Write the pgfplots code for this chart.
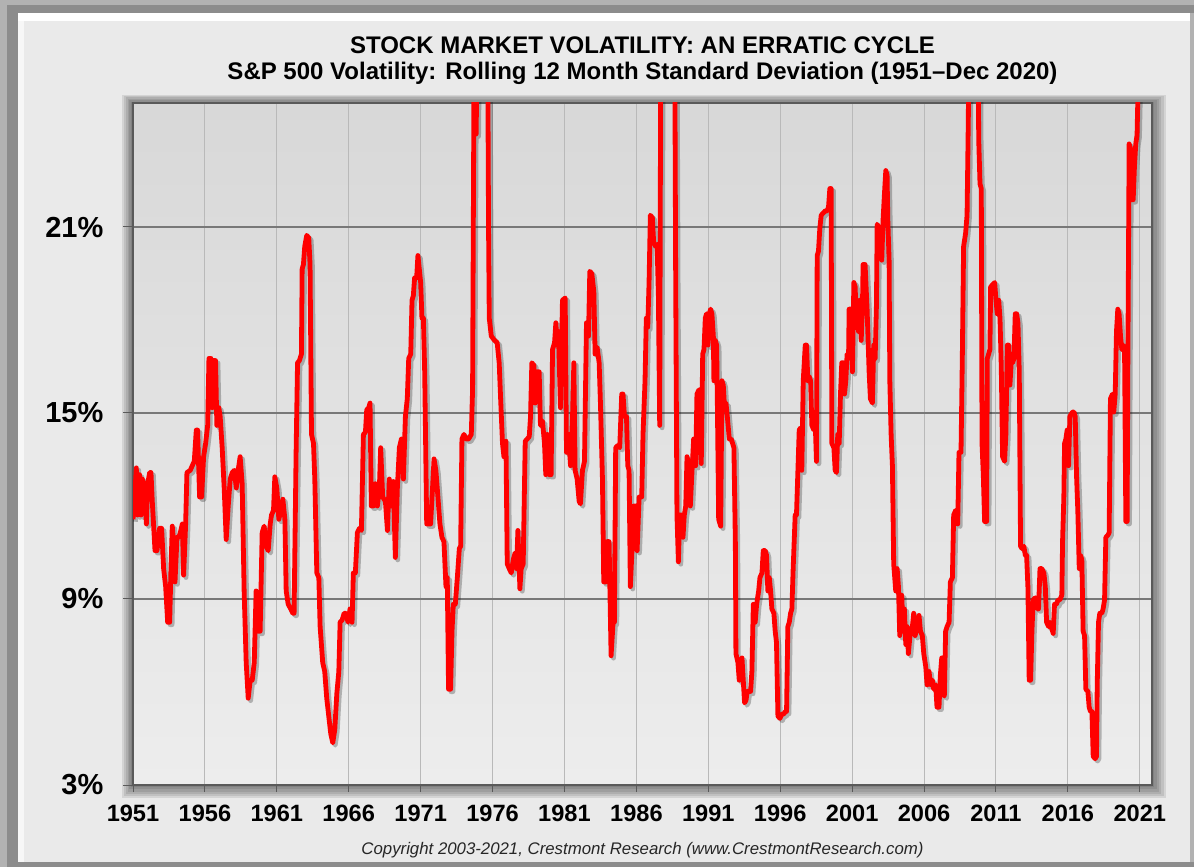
\documentclass[border=0pt]{standalone}
\usepackage{fontspec}
\setmainfont{Liberation Sans}
\usepackage{pgfplots}
\usepackage{pgfplotstable}
\pgfplotsset{compat=1.18}

\definecolor{outer}{RGB}{178,178,178}
\definecolor{panel}{RGB}{234,234,234}
\definecolor{plottop}{RGB}{216,216,216}
\definecolor{plotbot}{RGB}{237,237,237}
\definecolor{gridv}{RGB}{185,185,185}
\definecolor{gridh}{RGB}{120,120,120}
\definecolor{frame}{RGB}{90,90,90}
\definecolor{volred}{RGB}{255,0,0}

% S&P 500 rolling 12 month std dev (%)
\pgfplotstableread{
yr v
1951.00 11.57
1951.09 12.07
1951.23 13.23
1951.32 11.71
1951.46 13.01
1951.56 11.71
1951.65 12.87
1951.79 12.58
1951.93 11.42
1952.02 12.72
1952.16 13.08
1952.25 13.08
1952.34 12.15
1952.53 10.56
1952.67 10.56
1952.85 11.28
1952.99 11.28
1953.13 9.98
1953.27 9.40
1953.41 8.25
1953.55 8.25
1953.64 9.98
1953.73 11.35
1953.82 10.85
1953.92 9.55
1954.06 10.99
1954.19 10.99
1954.29 11.14
1954.43 11.42
1954.52 9.77
1954.66 11.42
1954.75 13.08
1954.98 13.15
1955.12 13.30
1955.26 13.44
1955.40 14.45
1955.49 14.45
1955.63 12.29
1955.77 12.29
1955.91 13.59
1956.05 14.02
1956.19 14.60
1956.28 16.76
1956.42 16.76
1956.51 15.17
1956.60 16.69
1956.74 16.69
1956.83 14.60
1956.97 15.17
1957.06 14.89
1957.20 13.88
1957.34 12.58
1957.48 10.92
1957.62 12.00
1957.76 12.87
1957.90 13.08
1958.04 13.15
1958.18 12.58
1958.31 13.15
1958.45 13.59
1958.59 12.72
1958.73 9.19
1958.87 6.95
1959.01 5.80
1959.15 6.38
1959.29 6.38
1959.43 6.95
1959.56 9.26
1959.70 7.96
1959.84 7.96
1959.98 11.14
1960.12 11.35
1960.26 10.70
1960.40 10.56
1960.54 11.42
1960.63 11.71
1960.77 11.86
1960.86 12.94
1961.00 12.58
1961.14 11.57
1961.28 11.86
1961.42 12.22
1961.56 11.57
1961.65 9.26
1961.79 8.83
1961.97 8.68
1962.11 8.54
1962.20 8.54
1962.34 13.73
1962.44 16.62
1962.57 16.69
1962.71 16.90
1962.76 19.65
1962.85 19.79
1962.94 20.37
1963.08 20.73
1963.22 20.65
1963.31 19.79
1963.41 14.31
1963.55 14.02
1963.64 12.87
1963.78 9.84
1963.92 9.69
1964.01 8.11
1964.19 6.95
1964.33 6.66
1964.47 5.80
1964.61 5.22
1964.75 4.65
1964.89 4.36
1965.03 4.79
1965.17 5.94
1965.31 6.66
1965.40 8.25
1965.54 8.32
1965.68 8.54
1965.81 8.54
1965.95 8.25
1966.09 8.68
1966.23 8.25
1966.32 9.84
1966.46 9.84
1966.60 11.14
1966.74 11.28
1966.88 11.21
1967.02 14.31
1967.16 14.38
1967.25 15.10
1967.39 15.17
1967.48 15.32
1967.57 12.00
1967.71 12.00
1967.85 12.72
1967.99 12.00
1968.13 12.58
1968.22 13.88
1968.36 12.29
1968.55 12.15
1968.69 11.21
1968.82 12.87
1968.96 12.00
1969.10 12.79
1969.24 10.34
1969.38 12.58
1969.52 13.88
1969.66 14.16
1969.80 12.87
1969.94 14.89
1970.07 15.46
1970.17 16.76
1970.31 16.90
1970.40 18.64
1970.49 18.78
1970.58 19.36
1970.72 19.36
1970.81 20.08
1971.00 19.21
1971.09 18.06
1971.19 18.06
1971.28 16.33
1971.42 11.42
1971.56 11.42
1971.69 11.42
1971.81 12.43
1971.93 13.52
1972.06 13.15
1972.20 12.29
1972.34 11.42
1972.48 10.99
1972.62 10.85
1972.76 9.40
1972.85 9.69
1972.94 6.09
1973.08 6.09
1973.18 7.96
1973.27 8.83
1973.41 8.83
1973.55 9.69
1973.69 10.63
1973.78 10.70
1973.87 14.16
1974.01 14.31
1974.15 14.16
1974.33 14.16
1974.52 14.31
1974.61 15.75
1974.66 20.94
1974.71 26.00
1974.80 24.20
1974.86 24.00
1974.95 28.00
1975.58 28.00
1975.66 27.00
1975.72 21.00
1975.77 18.06
1975.91 17.48
1976.14 17.34
1976.32 17.27
1976.46 16.62
1976.56 15.46
1976.69 14.02
1976.79 13.59
1976.93 14.09
1977.02 10.13
1977.16 9.98
1977.30 9.84
1977.44 10.27
1977.57 10.49
1977.67 9.98
1977.76 11.21
1977.90 9.33
1977.99 9.98
1978.13 10.13
1978.27 14.09
1978.41 14.16
1978.55 14.24
1978.64 14.89
1978.73 16.62
1978.87 16.54
1978.96 15.32
1979.10 16.33
1979.24 16.33
1979.33 14.60
1979.47 14.74
1979.61 14.02
1979.70 13.01
1979.80 14.31
1979.94 13.01
1980.07 13.01
1980.17 17.05
1980.31 17.27
1980.40 17.91
1980.49 17.19
1980.58 17.63
1980.72 15.17
1980.86 18.64
1981.05 18.71
1981.14 13.73
1981.28 14.31
1981.42 13.30
1981.56 14.89
1981.65 16.62
1981.74 13.15
1981.88 12.87
1982.02 12.15
1982.11 12.07
1982.25 13.15
1982.39 13.44
1982.53 17.91
1982.67 17.48
1982.76 19.57
1982.90 19.50
1983.04 18.92
1983.13 16.90
1983.27 17.12
1983.41 16.62
1983.50 15.32
1983.64 12.87
1983.73 9.55
1983.87 9.55
1983.96 10.85
1984.10 10.85
1984.24 7.17
1984.38 8.25
1984.47 8.25
1984.56 13.88
1984.70 13.95
1984.84 13.88
1984.98 15.61
1985.07 15.61
1985.17 14.89
1985.31 14.89
1985.40 13.30
1985.49 13.15
1985.58 9.40
1985.72 10.85
1985.81 12.00
1985.95 12.00
1986.05 10.56
1986.19 12.29
1986.37 12.29
1986.46 14.31
1986.60 16.04
1986.69 18.06
1986.79 17.77
1986.88 19.21
1986.97 21.38
1987.11 21.30
1987.20 20.51
1987.34 20.37
1987.44 20.44
1987.53 18.78
1987.62 14.60
1987.71 30.00
1988.64 30.00
1988.73 19.50
1988.82 11.71
1988.92 10.20
1989.01 11.71
1989.15 11.71
1989.24 10.99
1989.33 11.71
1989.43 12.00
1989.52 13.59
1989.66 13.30
1989.75 12.00
1989.84 12.87
1989.98 14.16
1990.12 13.30
1990.21 15.61
1990.35 15.75
1990.51 13.37
1990.61 16.90
1990.70 17.05
1990.79 18.06
1990.88 18.20
1990.98 17.19
1991.07 18.20
1991.16 18.35
1991.25 18.20
1991.35 17.48
1991.39 16.04
1991.49 17.34
1991.58 17.19
1991.63 15.32
1991.72 11.57
1991.86 11.35
1991.95 16.04
1992.04 15.90
1992.13 15.17
1992.23 15.32
1992.32 14.89
1992.46 14.16
1992.60 14.16
1992.78 13.88
1992.88 10.85
1992.92 7.24
1993.06 6.95
1993.15 6.38
1993.25 6.95
1993.34 7.10
1993.43 6.38
1993.52 5.65
1993.62 5.73
1993.71 6.02
1993.94 6.02
1994.03 6.66
1994.13 8.83
1994.26 8.25
1994.36 8.83
1994.50 9.26
1994.59 9.69
1994.73 9.84
1994.82 10.56
1994.96 10.56
1995.05 10.41
1995.14 9.26
1995.24 9.69
1995.33 9.26
1995.42 8.68
1995.56 8.54
1995.65 7.96
1995.74 7.60
1995.84 5.22
1995.98 5.15
1996.12 5.29
1996.25 5.29
1996.35 5.37
1996.44 5.37
1996.53 8.11
1996.63 8.25
1996.72 8.54
1996.81 8.68
1996.90 9.98
1997.04 11.71
1997.13 11.71
1997.23 13.15
1997.32 14.45
1997.41 14.52
1997.50 13.15
1997.60 16.04
1997.74 17.19
1997.83 17.19
1997.92 16.04
1998.01 16.18
1998.11 16.04
1998.20 14.60
1998.34 14.45
1998.43 14.74
1998.52 13.44
1998.57 20.08
1998.66 20.22
1998.75 20.94
1998.85 21.38
1998.99 21.45
1999.13 21.52
1999.27 21.52
1999.36 21.66
1999.45 22.24
1999.54 22.24
1999.59 14.02
1999.73 13.88
1999.82 13.15
1999.91 13.08
2000.00 14.31
2000.10 14.02
2000.19 15.61
2000.28 16.62
2000.38 16.62
2000.47 15.61
2000.56 16.04
2000.65 16.90
2000.75 16.76
2000.79 18.35
2000.93 18.35
2001.02 16.33
2001.12 19.21
2001.21 19.07
2001.25 18.49
2001.35 18.64
2001.44 17.63
2001.53 18.64
2001.63 17.34
2001.72 18.49
2001.76 19.79
2001.90 19.79
2002.04 18.35
2002.18 16.33
2002.27 15.46
2002.41 15.32
2002.50 17.19
2002.60 16.76
2002.69 18.49
2002.74 21.09
2002.88 20.94
2002.97 20.51
2003.06 19.93
2003.15 21.23
2003.25 22.10
2003.34 22.82
2003.43 22.67
2003.48 21.23
2003.57 19.93
2003.62 16.04
2003.71 14.31
2003.80 13.30
2003.89 10.13
2004.03 9.26
2004.13 9.98
2004.22 9.40
2004.31 7.82
2004.45 9.12
2004.54 7.96
2004.63 8.68
2004.73 7.53
2004.82 8.11
2004.91 7.24
2005.05 7.96
2005.19 8.11
2005.28 8.54
2005.38 7.82
2005.51 8.11
2005.65 8.47
2005.75 7.96
2005.88 7.82
2005.98 7.24
2006.12 6.81
2006.21 6.23
2006.35 6.66
2006.44 6.23
2006.58 6.38
2006.67 6.09
2006.81 6.23
2006.90 5.51
2007.04 5.51
2007.13 6.52
2007.23 7.10
2007.32 5.94
2007.41 5.87
2007.50 7.96
2007.60 8.11
2007.74 8.25
2007.83 9.55
2007.97 9.69
2008.06 11.71
2008.20 11.86
2008.34 11.42
2008.43 13.73
2008.57 13.73
2008.66 16.76
2008.75 20.37
2008.89 20.80
2008.99 21.38
2009.08 24.55
2009.15 30.00
2009.72 30.00
2009.80 23.83
2009.89 22.39
2009.98 22.24
2010.03 14.02
2010.12 13.01
2010.21 11.50
2010.35 11.50
2010.40 16.76
2010.49 16.90
2010.58 17.05
2010.63 19.07
2010.77 19.14
2010.91 19.21
2011.00 18.64
2011.09 18.20
2011.19 18.64
2011.28 18.06
2011.37 16.47
2011.46 13.59
2011.60 13.44
2011.69 14.31
2011.79 17.19
2011.88 17.19
2011.97 15.90
2012.06 16.62
2012.16 16.62
2012.25 16.76
2012.34 18.20
2012.44 18.20
2012.53 17.91
2012.62 16.33
2012.71 10.70
2012.81 10.63
2012.94 10.70
2013.04 10.41
2013.13 10.41
2013.22 9.40
2013.31 6.38
2013.41 6.38
2013.50 7.96
2013.59 8.97
2013.73 9.04
2013.87 8.68
2013.96 8.68
2014.06 9.98
2014.19 9.98
2014.33 9.84
2014.43 9.40
2014.52 8.25
2014.66 8.11
2014.75 8.25
2014.84 8.11
2014.98 7.89
2015.07 8.83
2015.21 8.83
2015.31 8.97
2015.44 8.97
2015.58 9.12
2015.63 10.85
2015.72 12.29
2015.77 14.02
2015.86 14.16
2015.95 14.45
2016.05 13.30
2016.14 14.89
2016.23 14.96
2016.32 15.03
2016.42 15.03
2016.51 14.89
2016.60 13.01
2016.69 11.86
2016.79 9.98
2016.88 10.41
2016.97 10.27
2017.06 7.96
2017.16 7.82
2017.25 6.09
2017.39 6.02
2017.48 5.51
2017.57 5.37
2017.67 5.37
2017.76 3.92
2017.90 3.85
2017.99 3.92
2018.04 6.23
2018.13 8.25
2018.22 8.54
2018.36 8.54
2018.45 8.68
2018.55 8.97
2018.64 10.99
2018.78 11.06
2018.87 11.14
2018.96 15.46
2019.10 15.61
2019.19 15.03
2019.29 15.61
2019.38 17.63
2019.47 18.35
2019.56 18.20
2019.66 17.48
2019.75 17.05
2019.84 17.19
2019.94 17.05
2020.03 11.50
2020.12 11.50
2020.17 16.62
2020.26 23.68
2020.35 23.54
2020.44 21.88
2020.54 21.88
2020.63 22.96
2020.72 23.68
2020.81 23.97
2020.86 25.05
2020.92 26.00
}\vol

\begin{document}
\begin{tikzpicture}
\begin{scope}[x=0.5pt,y=0.5pt]
  % outer frame and panel
  \fill[outer] (0,0) rectangle (1194,867);
  \fill[black!45] (7,0) rectangle (1194,862);
  \fill[panel] (18,5) rectangle (1190,854);
  \fill[white] (18,846) rectangle (1190,854);
  \fill[white!60!panel] (18,5) rectangle (24,846);
  \fill[black!30] (1190,5) rectangle (1194,854);
  % soft shadow round the plot area
  \foreach \i in {1,...,6} {
    \fill[black,opacity=0.09] ({133-1.8*\i},{82-2.2*\i}) rectangle ({1152+2.3*\i},{764+1.4*\i});
  }
  % titles
  \node[font=\bfseries\fontsize{12}{14}\selectfont] at (642.5,822) {STOCK MARKET VOLATILITY: AN ERRATIC CYCLE};
  \node[font=\bfseries\fontsize{12}{14}\selectfont] at (642.5,794) {S\&P 500 Volatility: Rolling 12 Month Standard Deviation (1951–Dec 2020)};
  \node[font=\itshape\fontsize{8.4}{10}\selectfont, text=black!85] at (642.5,17) {Copyright 2003-2021, Crestmont Research (www.CrestmontResearch.com)};
\end{scope}

\begin{axis}[
  at={(66.5pt,41pt)}, anchor=south west,
  scale only axis, width=509.5pt, height=341pt,
  xmin=1951, xmax=2021.85, ymin=3, ymax=25,
  xtick={1951,1956,...,2021},
  xticklabels={1951,1956,1961,1966,1971,1976,1981,1986,1991,1996,2001,2006,2011,2016,2021},
  ytick={3,9,15,21},
  yticklabels={3\%,9\%,15\%,21\%},
  xmajorgrids, ymajorgrids,
  x grid style={gridv, line width=0.5pt},
  y grid style={gridh, line width=0.6pt},
  axis line style={frame, line width=0.7pt},
  tick align=outside, xtick pos=bottom, ytick pos=left,
  tick style={frame, line width=0.5pt},
  xtick style={/pgfplots/major tick length=3.5pt},
  ytick style={/pgfplots/major tick length=5pt},
  xticklabel style={font=\bfseries\fontsize{11.8}{13}\selectfont, yshift=-2.2pt},
  yticklabel style={font=\bfseries\fontsize{14.5}{16}\selectfont, xshift=-7pt},
  axis background/.style={shade, top color=plottop, bottom color=plotbot},
]
\addplot[black, opacity=0.25, line width=2.4pt, line join=round, xshift=1.2pt, yshift=-1.2pt]
  table[x=yr, y=v]{\vol};
\addplot[volred, line width=2.4pt, line join=round]
  table[x=yr, y=v]{\vol};
\end{axis}
\end{tikzpicture}
\end{document}
